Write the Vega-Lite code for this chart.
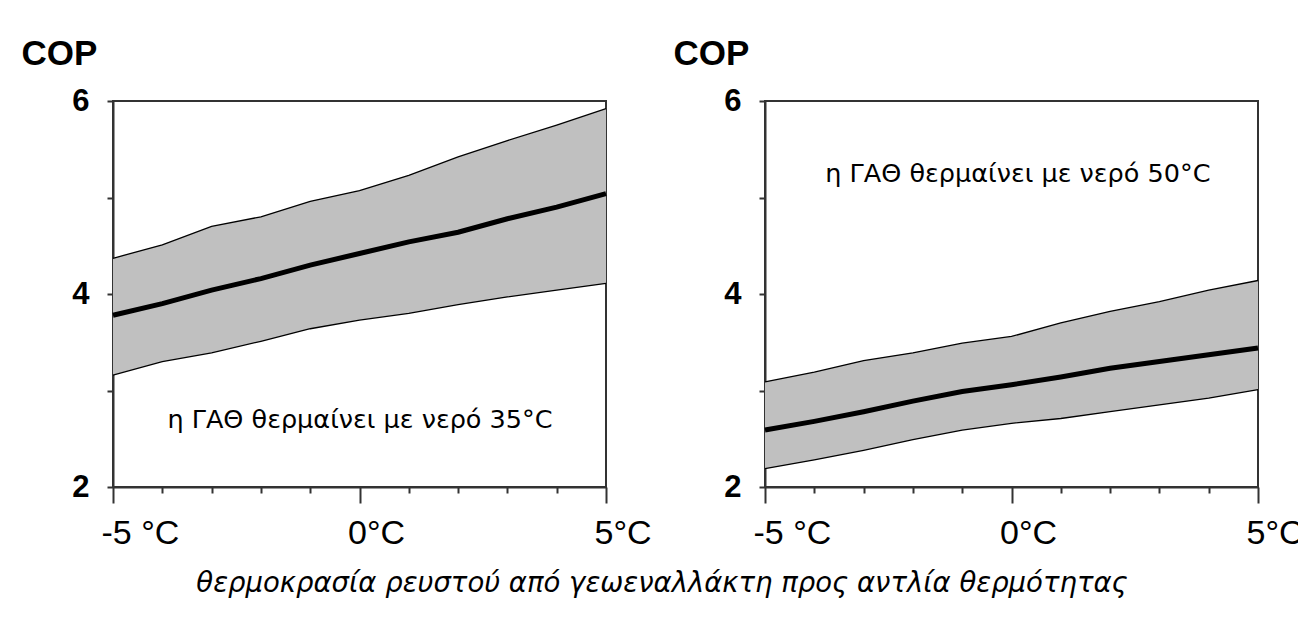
{
  "$schema": "https://vega.github.io/schema/vega-lite/v6.json",
  "background": "white",
  "padding": {"left": 20, "top": 35, "right": 0, "bottom": 5},
  "datasets": {
    "p35": [
      {"t": -5, "low": 3.16, "mid": 3.78, "high": 4.37},
      {"t": -4, "low": 3.30, "mid": 3.90, "high": 4.51},
      {"t": -3, "low": 3.39, "mid": 4.04, "high": 4.70},
      {"t": -2, "low": 3.51, "mid": 4.16, "high": 4.80},
      {"t": -1, "low": 3.64, "mid": 4.30, "high": 4.96},
      {"t": 0, "low": 3.73, "mid": 4.42, "high": 5.07},
      {"t": 1, "low": 3.80, "mid": 4.54, "high": 5.23},
      {"t": 2, "low": 3.89, "mid": 4.64, "high": 5.42},
      {"t": 3, "low": 3.97, "mid": 4.78, "high": 5.59},
      {"t": 4, "low": 4.04, "mid": 4.90, "high": 5.75},
      {"t": 5, "low": 4.11, "mid": 5.04, "high": 5.92}
    ],
    "p50": [
      {"t": -5, "low": 2.19, "mid": 2.59, "high": 3.09},
      {"t": -4, "low": 2.28, "mid": 2.68, "high": 3.19},
      {"t": -3, "low": 2.38, "mid": 2.78, "high": 3.31},
      {"t": -2, "low": 2.49, "mid": 2.89, "high": 3.39},
      {"t": -1, "low": 2.59, "mid": 2.99, "high": 3.49},
      {"t": 0, "low": 2.66, "mid": 3.06, "high": 3.56},
      {"t": 1, "low": 2.71, "mid": 3.14, "high": 3.70},
      {"t": 2, "low": 2.78, "mid": 3.23, "high": 3.82},
      {"t": 3, "low": 2.85, "mid": 3.30, "high": 3.92},
      {"t": 4, "low": 2.92, "mid": 3.37, "high": 4.04},
      {"t": 5, "low": 3.01, "mid": 3.44, "high": 4.14}
    ]
  },
  "title": {
    "text": "θερμοκρασία ρευστού από γεωεναλλάκτη προς αντλία θερμότητας",
    "orient": "bottom",
    "anchor": "middle",
    "font": "DejaVu Sans",
    "fontSize": 27.5,
    "fontStyle": "italic",
    "fontWeight": "normal",
    "color": "black",
    "offset": 19
  },
  "bounds": "flush",
  "spacing": 159,
  "hconcat": [
    {
      "width": 493,
      "height": 386,
      "data": {"name": "p35"},
      "layer": [
        {
          "mark": {"type": "area", "color": "#c0c0c0", "opacity": 1},
          "encoding": {
            "x": {"field": "t", "type": "quantitative", "scale": {"domain": [-5, 5], "nice": false},
              "axis": {"values": [-5, -4, -3, -2, -1, 0, 1, 2, 3, 4, 5], "title": null,
                "tickSize": {"condition": {"test": "datum.value % 5 === 0", "value": 16}, "value": 6},
                "labelExpr": "datum.value === -5 ? '-5 °C' : (datum.value % 5 === 0 ? datum.value + '°C' : '')",
                "labelAlign": "left", "labelOffset": -12, "labelBaseline": "top", "labelPadding": 13}},
            "y": {"field": "low", "type": "quantitative", "scale": {"domain": [2, 6], "nice": false},
              "axis": {"values": [2, 3, 4, 5, 6], "title": "COP",
                "labelExpr": "datum.value % 2 === 0 ? '' + datum.value : ''"}},
            "y2": {"field": "high"}
          }
        },
        {
          "mark": {"type": "line", "color": "black", "strokeWidth": 1.3},
          "encoding": {"x": {"field": "t", "type": "quantitative"}, "y": {"field": "high", "type": "quantitative"}}
        },
        {
          "mark": {"type": "line", "color": "black", "strokeWidth": 1.3},
          "encoding": {"x": {"field": "t", "type": "quantitative"}, "y": {"field": "low", "type": "quantitative"}}
        },
        {
          "mark": {"type": "line", "color": "black", "strokeWidth": 5},
          "encoding": {"x": {"field": "t", "type": "quantitative"}, "y": {"field": "mid", "type": "quantitative"}}
        },
        {
          "data": {"values": [{"label": "η ΓΑΘ θερμαίνει με νερό 35°C"}]},
          "mark": {"type": "text", "font": "DejaVu Sans", "fontSize": 25.5, "color": "black", "align": "center", "baseline": "middle"},
          "encoding": {"x": {"datum": 0.01}, "y": {"datum": 2.69}, "text": {"field": "label"}}
        }
      ]
    },
    {
      "width": 493,
      "height": 386,
      "data": {"name": "p50"},
      "layer": [
        {
          "mark": {"type": "area", "color": "#c0c0c0", "opacity": 1},
          "encoding": {
            "x": {"field": "t", "type": "quantitative", "scale": {"domain": [-5, 5], "nice": false},
              "axis": {"values": [-5, -4, -3, -2, -1, 0, 1, 2, 3, 4, 5], "title": null,
                "tickSize": {"condition": {"test": "datum.value % 5 === 0", "value": 16}, "value": 6},
                "labelExpr": "datum.value === -5 ? '-5 °C' : (datum.value % 5 === 0 ? datum.value + '°C' : '')",
                "labelAlign": "left", "labelOffset": -12, "labelBaseline": "top", "labelPadding": 13}},
            "y": {"field": "low", "type": "quantitative", "scale": {"domain": [2, 6], "nice": false},
              "axis": {"values": [2, 3, 4, 5, 6], "title": "COP",
                "labelExpr": "datum.value % 2 === 0 ? '' + datum.value : ''"}},
            "y2": {"field": "high"}
          }
        },
        {
          "mark": {"type": "line", "color": "black", "strokeWidth": 1.3},
          "encoding": {"x": {"field": "t", "type": "quantitative"}, "y": {"field": "high", "type": "quantitative"}}
        },
        {
          "mark": {"type": "line", "color": "black", "strokeWidth": 1.3},
          "encoding": {"x": {"field": "t", "type": "quantitative"}, "y": {"field": "low", "type": "quantitative"}}
        },
        {
          "mark": {"type": "line", "color": "black", "strokeWidth": 5},
          "encoding": {"x": {"field": "t", "type": "quantitative"}, "y": {"field": "mid", "type": "quantitative"}}
        },
        {
          "data": {"values": [{"label": "η ΓΑΘ θερμαίνει με νερό 50°C"}]},
          "mark": {"type": "text", "font": "DejaVu Sans", "fontSize": 25.5, "color": "black", "align": "center", "baseline": "middle"},
          "encoding": {"x": {"datum": 0.13}, "y": {"datum": 5.24}, "text": {"field": "label"}}
        }
      ]
    }
  ],
  "config": {
    "view": {"stroke": "#333333", "strokeWidth": 2},
    "axis": {
      "grid": false,
      "domainColor": "#333333",
      "domainWidth": 2,
      "tickColor": "#333333",
      "tickWidth": 2,
      "labelFont": "Liberation Sans",
      "labelColor": "black",
      "titleFont": "Liberation Sans",
      "titleColor": "black"
    },
    "axisX": {
      "labelFontSize": 34,
      "labelFontWeight": "normal"
    },
    "axisY": {
      "tickSize": 6,
      "labelFontSize": 31,
      "labelFontWeight": "bold",
      "labelPadding": 18,
      "titleFontSize": 35,
      "titleFontWeight": "bold",
      "titleAngle": 0,
      "titleAlign": "left",
      "titleBaseline": "alphabetic",
      "titleX": -92,
      "titleY": -37
    }
  }
}
